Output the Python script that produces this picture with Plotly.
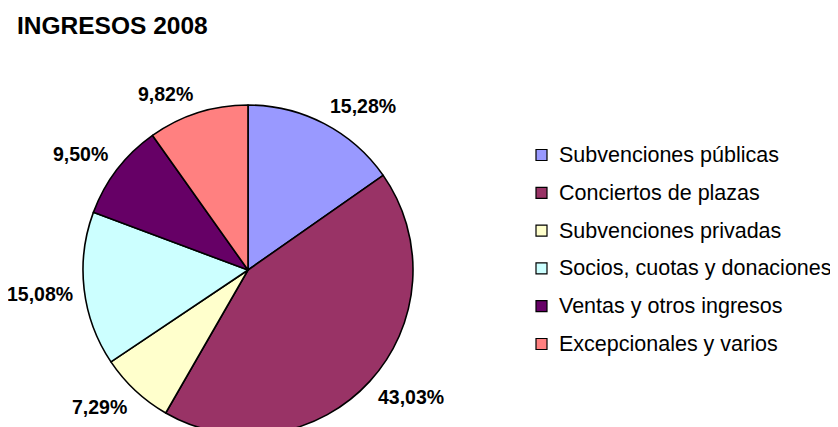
import math
import plotly.graph_objects as go

# ---- data ----
categories = ["Subvenciones públicas", "Conciertos de plazas", "Subvenciones privadas",
              "Socios, cuotas y donaciones", "Ventas y otros ingresos", "Excepcionales y varios"]
values = [15.28, 43.03, 7.29, 15.08, 9.50, 9.82]
value_labels = ["15,28%", "43,03%", "7,29%", "15,08%", "9,50%", "9,82%"]
colors = ["#9999FF", "#993366", "#FFFFCC", "#CCFFFF", "#660066", "#FF8080"]
title_text = "INGRESOS 2008"

# ---- layout constants (pixels, figure coordinates; page adds 8px body margin) ----
W, H = 838, 427
FONT = "Liberation Sans, Arial, sans-serif"
OFF = 8
cx, cy, r = 248 - OFF, 270 - OFF, 165   # pie centre / radius

def px(x):
    return x / W

def py(y):
    return 1 - y / H

fig = go.Figure()
fig.add_trace(go.Pie(
    labels=categories,
    values=values,
    sort=False,
    direction="clockwise",
    rotation=0,
    textinfo="none",
    hoverinfo="label+percent",
    marker=dict(colors=colors, line=dict(color="#000000", width=1.6)),
    domain=dict(x=[px(cx - r), px(cx + r)], y=[max(0.0, py(cy + r)), py(cy - r)]),
    showlegend=False,
))

annotations = []
shapes = []

# data labels placed outside each slice, computed from the values
total = sum(values)
cum = 0.0
R_lab = r + 9
for v, lab in zip(values, value_labels):
    mid = (cum + v / 2) / total * 2 * math.pi
    cum += v
    dx, dy = math.sin(mid), -math.cos(mid)
    ax_, ay_ = cx + R_lab * dx, cy + R_lab * dy
    off_y = 10 * max(-1.0, min(1.0, dy / 0.3))
    annotations.append(dict(
        x=px(ax_), y=py(ay_ + off_y), xref="paper", yref="paper",
        text="<b>" + lab + "</b>", showarrow=False,
        xanchor="left" if dx > 0 else "right", yanchor="middle",
        font=dict(family=FONT, size=19.5, color="#000000"),
    ))

# legend (drawn manually to match spacing)
leg_x, leg_y0, leg_dy, box = 536 - OFF, 155 - OFF, 37.8, 11
for i, (cat, col) in enumerate(zip(categories, colors)):
    yc = leg_y0 + i * leg_dy
    shapes.append(dict(
        type="rect", xref="paper", yref="paper",
        x0=px(leg_x), x1=px(leg_x + box), y0=py(yc + box / 2), y1=py(yc - box / 2),
        fillcolor=col, line=dict(color="#000000", width=1.2),
    ))
    annotations.append(dict(
        x=px(557 - OFF), y=py(yc), xref="paper", yref="paper",
        text=cat, showarrow=False, xanchor="left", yanchor="middle",
        font=dict(family=FONT, size=21.5, color="#000000"),
    ))

fig.update_layout(
    width=W, height=H,
    margin=dict(l=0, r=0, t=0, b=0),
    paper_bgcolor="#FFFFFF",
    plot_bgcolor="#FFFFFF",
    title=dict(text="<b>" + title_text + "</b>", x=px(17 - OFF), xanchor="left", xref="paper",
               y=py(25 - OFF), yanchor="middle", yref="container",
               font=dict(family=FONT, size=24.5, color="#000000")),
    annotations=annotations,
    shapes=shapes,
)

fig.write_html("out.html")
